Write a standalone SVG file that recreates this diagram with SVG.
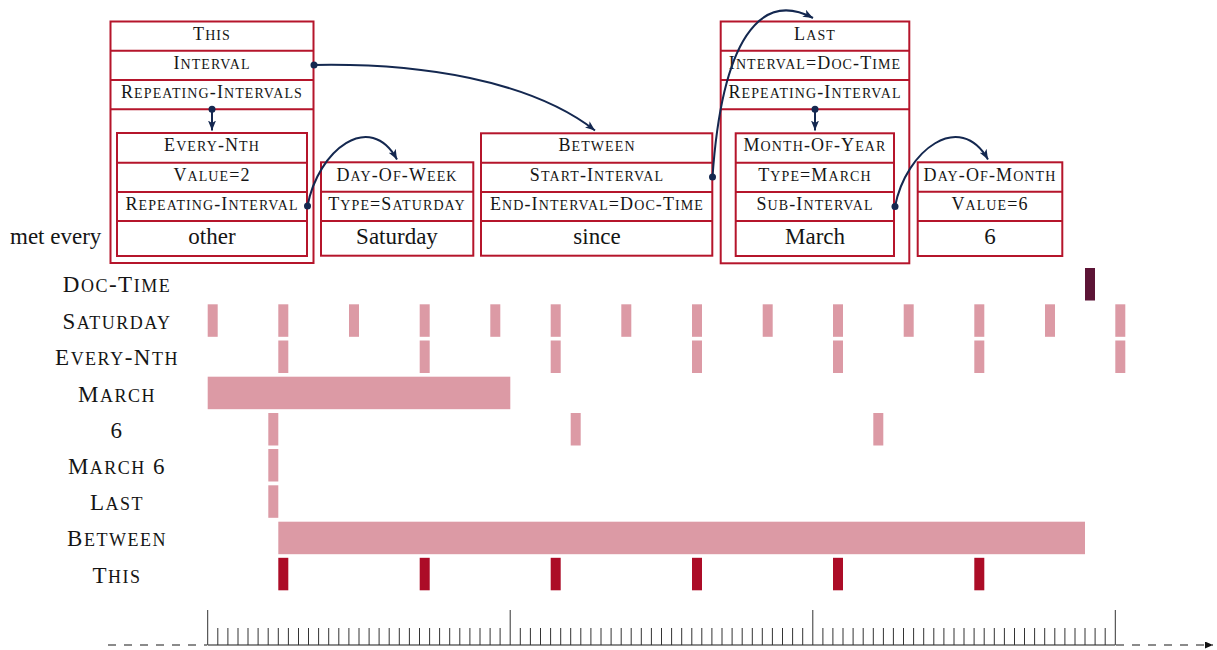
<svg xmlns="http://www.w3.org/2000/svg" width="1217" height="650" viewBox="0 0 1217 650">
<style>
.box{fill:#fff;stroke:#b5152b;stroke-width:2}
.sep{stroke:#b5152b;stroke-width:2;fill:none}
text{font-family:"Liberation Serif","Times New Roman",serif;fill:#151515}
.ft{font-size:18px;text-anchor:middle;letter-spacing:1.1px}
.ft .s{font-size:14px}
.big{font-size:23px;text-anchor:middle}
.lab{font-size:23px;text-anchor:middle;letter-spacing:1.5px}
.lab .s{font-size:18px}
.conn{fill:none;stroke:#142850;stroke-width:2}
.dot{fill:#142850}
.bar{fill:#dc9aa5}
.this{fill:#ac0c27}
.doc{fill:#5c1436}
.tick{stroke:#333;stroke-width:1;fill:none}
.axis{stroke:#666;stroke-width:1.6;fill:none}
.dash{stroke:#666;stroke-width:1.6;fill:none;stroke-dasharray:8 8}
</style>
<defs>
<marker id="ah" viewBox="0 0 10 8" refX="10" refY="4" markerWidth="10" markerHeight="8" markerUnits="userSpaceOnUse" orient="auto">
<path d="M0,0 L10,4 L0,8 L2.5,4 Z" fill="#142850"/>
</marker>
<marker id="axh" viewBox="0 0 8 7" refX="8" refY="3.5" markerWidth="8" markerHeight="7" markerUnits="userSpaceOnUse" orient="auto">
<path d="M0,0 L8,3.5 L0,7 Z" fill="#111"/>
</marker>
</defs>
<rect width="1217" height="650" fill="#fff"/>

<text x="10" y="244" style="font-size:23px">met every</text>

<g id="this">
<rect class="box" x="110.5" y="21.5" width="203" height="241.5"/>
<path class="sep" d="M110.5,50.7H313.5M110.5,80H313.5M110.5,109.3H313.5"/>
<text class="ft" x="212" y="39.5">T<tspan class="s">HIS</tspan></text>
<text class="ft" x="212" y="69">I<tspan class="s">NTERVAL</tspan></text>
<text class="ft" x="212" y="98">R<tspan class="s">EPEATING</tspan>-I<tspan class="s">NTERVALS</tspan></text>
</g>

<g id="every-nth">
<rect class="box" x="117" y="133" width="190" height="123"/>
<path class="sep" d="M117,162.7H307M117,192H307M117,221H307"/>
<text class="ft" x="212" y="151">E<tspan class="s">VERY</tspan>-N<tspan class="s">TH</tspan></text>
<text class="ft" x="212" y="180.5">V<tspan class="s">ALUE</tspan>=2</text>
<text class="ft" x="212" y="210">R<tspan class="s">EPEATING</tspan>-I<tspan class="s">NTERVAL</tspan></text>
<text class="big" x="212" y="244">other</text>
</g>

<g id="day-of-week">
<rect class="box" x="321" y="162.3" width="152.3" height="93.4"/>
<path class="sep" d="M321,191.7H473.3M321,221H473.3"/>
<text class="ft" x="397" y="180.5">D<tspan class="s">AY</tspan>-O<tspan class="s">F</tspan>-W<tspan class="s">EEK</tspan></text>
<text class="ft" x="397" y="210">T<tspan class="s">YPE</tspan>=S<tspan class="s">ATURDAY</tspan></text>
<text class="big" x="397" y="244">Saturday</text>
</g>

<g id="between">
<rect class="box" x="481" y="133.3" width="231.3" height="122.4"/>
<path class="sep" d="M481,162.7H712.3M481,192H712.3M481,221H712.3"/>
<text class="ft" x="597" y="151">B<tspan class="s">ETWEEN</tspan></text>
<text class="ft" x="597" y="180.5">S<tspan class="s">TART</tspan>-I<tspan class="s">NTERVAL</tspan></text>
<text class="ft" x="597" y="210">E<tspan class="s">ND</tspan>-I<tspan class="s">NTERVAL</tspan>=D<tspan class="s">OC</tspan>-T<tspan class="s">IME</tspan></text>
<text class="big" x="597" y="244">since</text>
</g>

<g id="last">
<rect class="box" x="720.7" y="21.5" width="188.6" height="241.8"/>
<path class="sep" d="M720.7,50.7H909.3M720.7,80H909.3M720.7,109.3H909.3"/>
<text class="ft" x="815" y="39.5">L<tspan class="s">AST</tspan></text>
<text class="ft" x="815" y="69">I<tspan class="s">NTERVAL</tspan>=D<tspan class="s">OC</tspan>-T<tspan class="s">IME</tspan></text>
<text class="ft" x="815" y="98">R<tspan class="s">EPEATING</tspan>-I<tspan class="s">NTERVAL</tspan></text>
</g>

<g id="month-of-year">
<rect class="box" x="735.7" y="133.3" width="158.3" height="122.7"/>
<path class="sep" d="M735.7,162.7H894M735.7,192H894M735.7,221H894"/>
<text class="ft" x="815" y="151">M<tspan class="s">ONTH</tspan>-O<tspan class="s">F</tspan>-Y<tspan class="s">EAR</tspan></text>
<text class="ft" x="815" y="180.5">T<tspan class="s">YPE</tspan>=M<tspan class="s">ARCH</tspan></text>
<text class="ft" x="815" y="210">S<tspan class="s">UB</tspan>-I<tspan class="s">NTERVAL</tspan></text>
<text class="big" x="815" y="244">March</text>
</g>

<g id="day-of-month">
<rect class="box" x="917.7" y="162.3" width="144.6" height="93.7"/>
<path class="sep" d="M917.7,191.7H1062.3M917.7,221H1062.3"/>
<text class="ft" x="990" y="180.5">D<tspan class="s">AY</tspan>-O<tspan class="s">F</tspan>-M<tspan class="s">ONTH</tspan></text>
<text class="ft" x="990" y="210">V<tspan class="s">ALUE</tspan>=6</text>
<text class="big" x="990" y="244">6</text>
</g>

<g id="connectors">
<path class="conn" marker-end="url(#ah)" d="M212,109.3 L212,130.5"/>
<path class="conn" marker-end="url(#ah)" d="M314,65 C420,63 530,80 595,130.5"/>
<path class="conn" marker-end="url(#ah)" d="M307.5,206 C318,150 370,110 397,159.5"/>
<path class="conn" marker-end="url(#ah)" d="M712.5,177 C722,40 760,-10 813,18"/>
<path class="conn" marker-end="url(#ah)" d="M815,109.3 L815,130.5"/>
<path class="conn" marker-end="url(#ah)" d="M895,206.5 C906,150 960,110 988,159.5"/>
<circle class="dot" cx="212" cy="109.3" r="3.5"/>
<circle class="dot" cx="314" cy="65" r="3.5"/>
<circle class="dot" cx="307.5" cy="206" r="3.5"/>
<circle class="dot" cx="712.5" cy="177" r="3.5"/>
<circle class="dot" cx="815" cy="109.3" r="3.5"/>
<circle class="dot" cx="895" cy="206.5" r="3.5"/>
</g>

<g id="row-labels">
<text class="lab" x="117" y="292.3">D<tspan class="s">OC</tspan>-T<tspan class="s">IME</tspan></text>
<text class="lab" x="117" y="329">S<tspan class="s">ATURDAY</tspan></text>
<text class="lab" x="117" y="365">E<tspan class="s">VERY</tspan>-N<tspan class="s">TH</tspan></text>
<text class="lab" x="117" y="401.5">M<tspan class="s">ARCH</tspan></text>
<text class="lab" x="117" y="437.5">6</text>
<text class="lab" x="117" y="473.5">M<tspan class="s">ARCH</tspan> 6</text>
<text class="lab" x="117" y="510">L<tspan class="s">AST</tspan></text>
<text class="lab" x="117" y="546">B<tspan class="s">ETWEEN</tspan></text>
<text class="lab" x="117" y="582.5">T<tspan class="s">HIS</tspan></text>
</g>

<g id="bars">
<rect class="doc" x="1085" y="268" width="10" height="32.5"/>
<g transform="translate(0,304.3)">
<rect class="bar" x="207.7" width="10" height="32.5"/>
<rect class="bar" x="278.3" width="10" height="32.5"/>
<rect class="bar" x="349" width="10" height="32.5"/>
<rect class="bar" x="419.7" width="10" height="32.5"/>
<rect class="bar" x="490.3" width="10" height="32.5"/>
<rect class="bar" x="550.7" width="10" height="32.5"/>
<rect class="bar" x="621.3" width="10" height="32.5"/>
<rect class="bar" x="692" width="10" height="32.5"/>
<rect class="bar" x="762.7" width="10" height="32.5"/>
<rect class="bar" x="833" width="10" height="32.5"/>
<rect class="bar" x="903.7" width="10" height="32.5"/>
<rect class="bar" x="974.3" width="10" height="32.5"/>
<rect class="bar" x="1045" width="10" height="32.5"/>
<rect class="bar" x="1115.3" width="10" height="32.5"/>
</g>
<g transform="translate(0,340.5)">
<rect class="bar" x="278.3" width="10" height="32.5"/>
<rect class="bar" x="419.7" width="10" height="32.5"/>
<rect class="bar" x="550.7" width="10" height="32.5"/>
<rect class="bar" x="692" width="10" height="32.5"/>
<rect class="bar" x="833" width="10" height="32.5"/>
<rect class="bar" x="974.3" width="10" height="32.5"/>
<rect class="bar" x="1115.3" width="10" height="32.5"/>
</g>
<rect class="bar" x="207.7" y="376.7" width="302.6" height="32.5"/>
<g transform="translate(0,413)">
<rect class="bar" x="268.3" width="10" height="32.5"/>
<rect class="bar" x="570.7" width="10" height="32.5"/>
<rect class="bar" x="873.3" width="10" height="32.5"/>
</g>
<rect class="bar" x="268.3" y="449" width="10" height="32.5"/>
<rect class="bar" x="268.3" y="485.3" width="10" height="32.5"/>
<rect class="bar" x="278.3" y="521.7" width="806.7" height="32.5"/>
<g transform="translate(0,557.8)">
<rect class="this" x="278.3" width="10" height="32.5"/>
<rect class="this" x="419.7" width="10" height="32.5"/>
<rect class="this" x="550.7" width="10" height="32.5"/>
<rect class="this" x="692" width="10" height="32.5"/>
<rect class="this" x="833" width="10" height="32.5"/>
<rect class="this" x="974.3" width="10" height="32.5"/>
</g>
</g>

<g id="axis">
<path class="dash" d="M108,645H207"/>
<path class="dash" marker-end="url(#axh)" d="M1116,645H1213"/>
<path class="axis" d="M207.7,645H1115.3"/>
<path class="tick" d="M207.7,610V645M510.2,610V645M812.8,610V645M1115.3,610V645"/>
<path class="tick" d="M217.8,628V645M227.9,628V645M238,628V645M248,628V645M258.1,628V645M268.2,628V645M278.3,628V645M288.4,628V645M298.5,628V645M308.5,628V645M318.6,628V645M328.7,628V645M338.8,628V645M348.9,628V645M359,628V645M369.1,628V645M379.1,628V645M389.2,628V645M399.3,628V645M409.4,628V645M419.5,628V645M429.6,628V645M439.6,628V645M449.7,628V645M459.8,628V645M469.9,628V645M480,628V645M490.1,628V645M500.1,628V645M520.3,628V645M530.4,628V645M540.5,628V645M550.6,628V645M560.7,628V645M570.7,628V645M580.8,628V645M590.9,628V645M601,628V645M611.1,628V645M621.2,628V645M631.2,628V645M641.3,628V645M651.4,628V645M661.5,628V645M671.6,628V645M681.7,628V645M691.8,628V645M701.8,628V645M711.9,628V645M722,628V645M732.1,628V645M742.2,628V645M752.3,628V645M762.3,628V645M772.4,628V645M782.5,628V645M792.6,628V645M802.7,628V645M822.9,628V645M832.9,628V645M843,628V645M853.1,628V645M863.2,628V645M873.3,628V645M883.4,628V645M893.4,628V645M903.5,628V645M913.6,628V645M923.7,628V645M933.8,628V645M943.9,628V645M954,628V645M964,628V645M974.1,628V645M984.2,628V645M994.3,628V645M1004.4,628V645M1014.5,628V645M1024.5,628V645M1034.6,628V645M1044.7,628V645M1054.8,628V645M1064.9,628V645M1075,628V645M1085,628V645M1095.1,628V645M1105.2,628V645"/>
</g>
</svg>
